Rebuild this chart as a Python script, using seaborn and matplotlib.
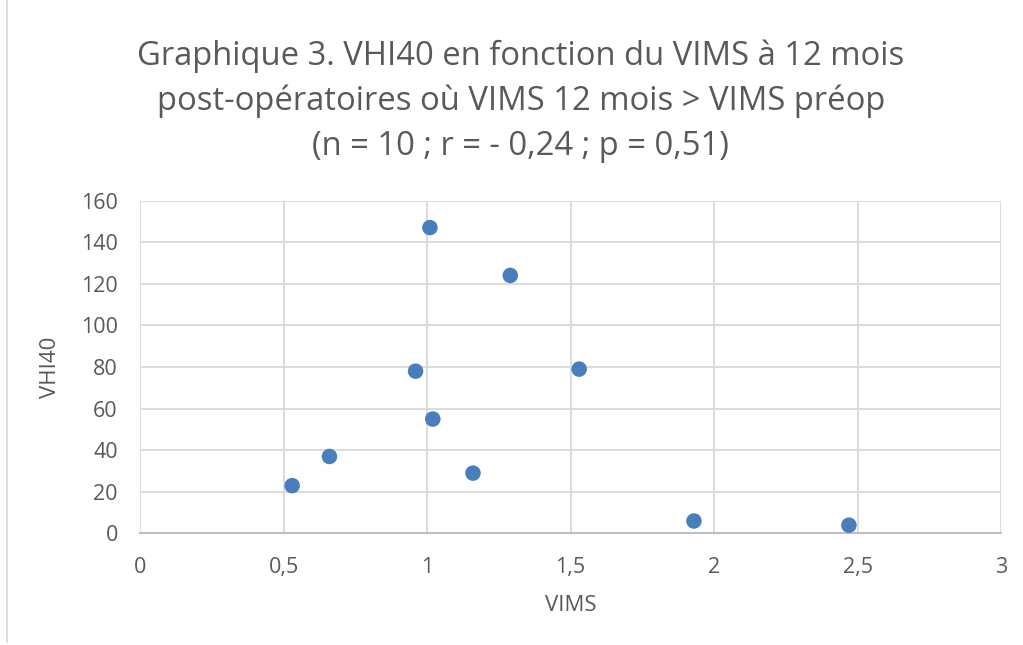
import matplotlib
matplotlib.use("Agg")
import matplotlib.pyplot as plt
import seaborn as sns
import pandas as pd
from matplotlib.ticker import FuncFormatter
from matplotlib.lines import Line2D

vims = [0.53, 0.66, 0.96, 1.01, 1.02, 1.16, 1.29, 1.53, 1.93, 2.47]
vhi40 = [23, 37, 78, 147, 55, 29, 124, 79, 6, 4]
x_ticks = [0, 0.5, 1, 1.5, 2, 2.5, 3]
y_ticks = [0, 20, 40, 60, 80, 100, 120, 140, 160]
title = ("Graphique 3. VHI40 en fonction du VIMS à 12 mois\n"
         "post-opératoires où VIMS 12 mois > VIMS préop\n"
         "(n = 10 ; r = - 0,24 ; p = 0,51)")

df = pd.DataFrame({"VIMS": vims, "VHI40": vhi40})

sns.set_theme(style="white")
plt.rcParams["font.family"] = ["Open Sans", "DejaVu Sans"]

grey = "#595959"
fig = plt.figure(figsize=(10.23, 6.45), dpi=100)
ax = fig.add_axes([0.1369, 0.1729, 0.8416, 0.5162])

sns.scatterplot(data=df, x="VIMS", y="VHI40", ax=ax, s=125, color="#4A7EBB",
                edgecolor="none", zorder=3, clip_on=False)

ax.set_xlim(0, 3)
ax.set_ylim(0, 160)
ax.set_xticks(x_ticks)
ax.set_yticks(y_ticks)
ax.xaxis.set_major_formatter(FuncFormatter(lambda v, p: f"{v:g}".replace(".", ",")))
ax.grid(True, color="#D9D9D9", linewidth=1.3)
ax.set_axisbelow(True)
for side in ["top", "right", "left"]:
    ax.spines[side].set_visible(False)
ax.spines["bottom"].set_color("#BFBFBF")
ax.spines["bottom"].set_linewidth(1.5)
ax.tick_params(axis="both", length=0, labelsize=15.5, labelcolor=grey)
ax.tick_params(axis="x", pad=17)
ax.tick_params(axis="y", pad=16)
ax.set_xlabel("VIMS", fontsize=16, color=grey, labelpad=12)
ax.set_ylabel("VHI40", fontsize=16, color=grey, labelpad=14)

fig.text(0.509, 0.843, title, ha="center", va="center", fontsize=23.6,
         color=grey, linespacing=1.48)

fig.add_artist(Line2D([7 / 1023, 7 / 1023], [0.005, 1.0], transform=fig.transFigure,
                      color="#D9D9D9", linewidth=1.2))

fig.savefig("out.png", dpi=100, facecolor="white")
